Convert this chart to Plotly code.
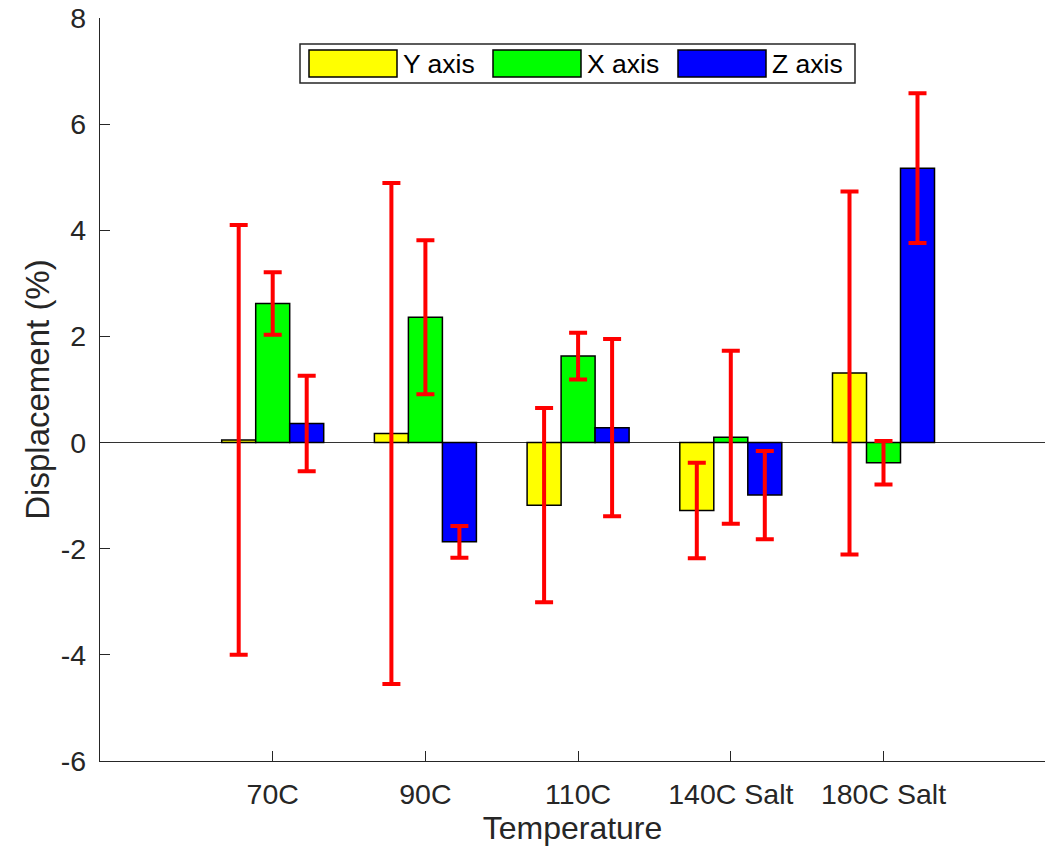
import plotly.graph_objects as go

categories = ["70C", "90C", "110C", "140C Salt", "180C Salt"]
x_pos = [1, 2, 3, 4, 5]

y_axis_vals = [0.05, 0.17, -1.18, -1.28, 1.31]
y_axis_err = [4.05, 4.72, 1.83, 0.90, 3.42]

x_axis_vals = [2.62, 2.36, 1.63, 0.10, -0.38]
x_axis_err = [0.59, 1.45, 0.44, 1.63, 0.41]

z_axis_vals = [0.36, -1.87, 0.28, -0.99, 5.17]
z_axis_err = [0.90, 0.30, 1.67, 0.83, 1.41]

series_names = ["Y axis", "X axis", "Z axis"]
series_colors = ["#ffff00", "#00ff00", "#0000ff"]
y_ticks = [-6, -4, -2, 0, 2, 4, 6, 8]

# the page body has an 8px margin; size the figure so that it fits the window
OFF = 8
W, H = 1053 - 2 * OFF, 854 - 2 * OFF
L, R, T = 100 - OFF, 0, 18 - OFF
B = H - (760.7 - OFF)
FONT = "Liberation Sans, Arial, Helvetica, sans-serif"
TXT = "#262626"

fig = go.Figure()
for name, vals, errs, col in zip(series_names,
                                 [y_axis_vals, x_axis_vals, z_axis_vals],
                                 [y_axis_err, x_axis_err, z_axis_err],
                                 series_colors):
    fig.add_trace(go.Bar(
        x=x_pos, y=vals, name=name,
        marker=dict(color=col, line=dict(color="black", width=1.5)),
        error_y=dict(type="data", array=errs, visible=True,
                     color="#ff0000", thickness=4, width=9),
        showlegend=False,
    ))

# custom legend (page pixel -> paper helpers)
def px(xp):
    return (xp - OFF - L) / (W - L - R)

def py(yp):
    return (H - B - (yp - OFF)) / (H - T - B)

shapes = [dict(type="rect", xref="paper", yref="paper",
               x0=px(300), x1=px(855), y0=py(83), y1=py(44),
               line=dict(color="#262626", width=1.5), fillcolor="white", layer="above")]
annotations = []
sw_x = [309, 493, 678]
for name, col, sx in zip(series_names, series_colors, sw_x):
    shapes.append(dict(type="rect", xref="paper", yref="paper",
                       x0=px(sx), x1=px(sx + 88), y0=py(77), y1=py(50),
                       line=dict(color="black", width=1.5), fillcolor=col, layer="above"))
    annotations.append(dict(xref="paper", yref="paper", x=px(sx + 92), y=py(64),
                            text=name, showarrow=False, xanchor="left", yanchor="middle",
                            font=dict(family=FONT, size=26.5, color="black")))

plot_w = W - L - R
x_lo = -0.131
x_hi = x_lo + plot_w / 152.7

fig.update_layout(
    width=W, height=H,
    margin=dict(l=L, r=R, t=T, b=B, autoexpand=False),
    paper_bgcolor="white", plot_bgcolor="white",
    barmode="group", bargap=0.332, bargroupgap=0,
    font=dict(family=FONT, size=28.5, color=TXT),
    shapes=shapes, annotations=annotations,
    showlegend=False,
)
fig.update_xaxes(
    range=[x_lo, x_hi], automargin=False,
    tickvals=x_pos, ticktext=categories,
    ticks="inside", ticklen=10, tickwidth=1.3, tickcolor=TXT,
    showline=True, linecolor=TXT, linewidth=1.3,
    showgrid=False, zeroline=False,
    tickfont=dict(size=28.5, color=TXT), ticklabelstandoff=8,
    ticklabeloverflow="allow",
    title=dict(text="Temperature", font=dict(size=32, color=TXT), standoff=8),
)
fig.update_yaxes(
    range=[-6, 8], automargin=False,
    tickvals=y_ticks, ticktext=[str(v) for v in y_ticks],
    ticks="inside", ticklen=10, tickwidth=1.3, tickcolor=TXT,
    showline=True, linecolor=TXT, linewidth=1.3,
    showgrid=False, zeroline=True, zerolinecolor="#333333", zerolinewidth=1.3,
    tickfont=dict(size=28.5, color=TXT), ticklabelstandoff=7,
    ticklabeloverflow="allow",
    title=dict(text="Displacement (%)", font=dict(size=33, color=TXT), standoff=1),
)

fig.write_html("out.html")
